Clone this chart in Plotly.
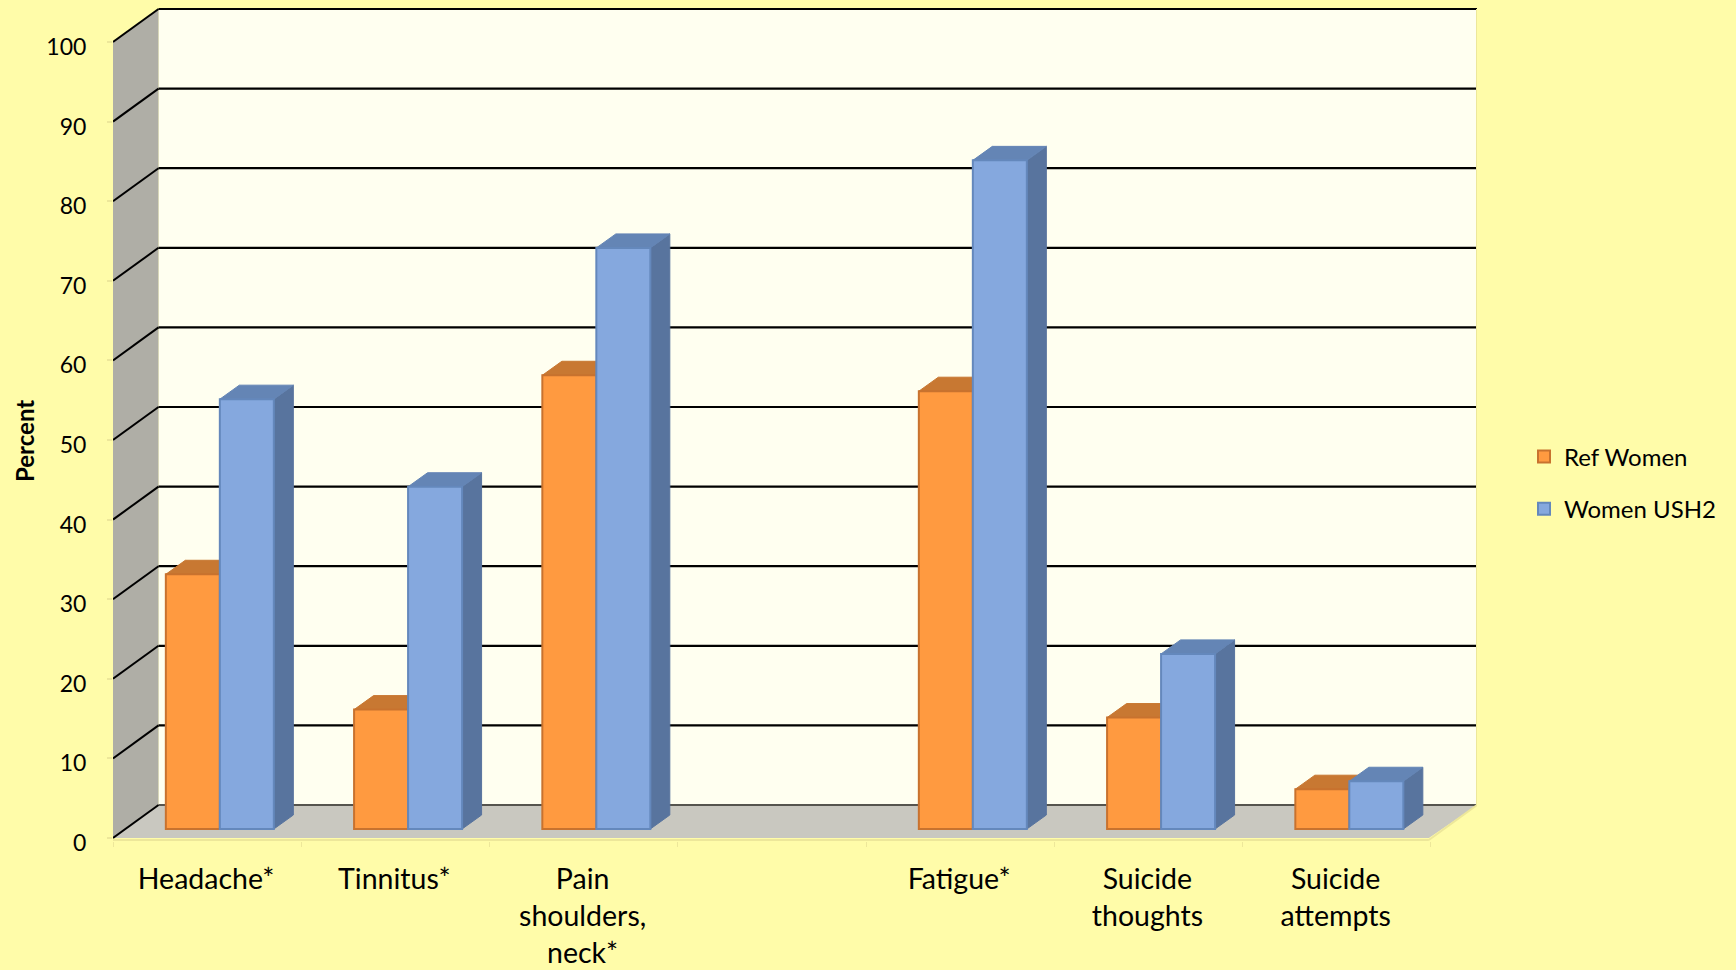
import plotly.graph_objects as go

categories = ["Headache*", "Tinnitus*", "Pain<br>shoulders,<br>neck*", "", "Fatigue*", "Suicide<br>thoughts", "Suicide<br>attempts"]
ref_women = [32, 15, 57, None, 55, 14, 5]
women_ush2 = [54, 43, 73, None, 84, 22, 6]
y_ticks = list(range(0, 101, 10))

FONT = "Lato"
PAPER = "#FFFCA9"
PALE = "#EDE79A"
N = len(categories)
# pixel scale of the pseudo-3D scene, used to convert offsets to axis units
LEFT = 113.0
RIGHT = 1477.0
PX_X = 188.25
PX_Y = 7.96
WALL_DX = 45.5 / PX_X
WALL_DY = 33 / PX_Y
BAR_W = 54 / PX_X
FACE_DX = 19.5 / PX_X
FACE_DY = 14 / PX_Y
BAR_SHIFT = 12.7 / PX_X
BAR_BASE = 9 / PX_Y
X_RANGE = [0, (RIGHT - LEFT) / PX_X]
Y_RANGE = [-3 / PX_Y, 832 / PX_Y]
PLOT_W = RIGHT - LEFT
PLOT_H = 835.0


def poly(points):
    return "M" + " L".join(f"{x:.4f},{y:.4f}" for x, y in points) + " Z"


def faces(values, side):
    sx, sy, tx, ty = [], [], [], []
    for i, v in enumerate(values):
        if v is None:
            continue
        centre = i + 0.5 + BAR_SHIFT + side * BAR_W / 2
        xl, xr = centre - BAR_W / 2, centre + BAR_W / 2
        top = BAR_BASE + v
        sx += [xr, xr + FACE_DX, xr + FACE_DX, xr, xr, None]
        sy += [BAR_BASE, BAR_BASE + FACE_DY, top + FACE_DY, top, BAR_BASE, None]
        tx += [xl, xl + FACE_DX, xr + FACE_DX, xr, xl, None]
        ty += [top, top + FACE_DY, top + FACE_DY, top, top, None]
    return sx, sy, tx, ty


shapes = [
    dict(type="path", path=poly([(WALL_DX, WALL_DY), (X_RANGE[1], WALL_DY), (X_RANGE[1], 100 + WALL_DY), (WALL_DX, 100 + WALL_DY)]),
         fillcolor="#FFFFF0", line_width=0, layer="below"),
    dict(type="path", path=poly([(0, 0), (WALL_DX, WALL_DY), (WALL_DX, 100 + WALL_DY), (0, 100)]),
         fillcolor="#AFAEA6", line_width=0, layer="below"),
    dict(type="path", path=poly([(0, 0), (N - 0.01, 0), (X_RANGE[1], WALL_DY), (WALL_DX, WALL_DY)]),
         fillcolor="#C9C8C0", line_width=0, layer="below"),
]
for v in y_ticks:
    col = "#55544E" if v == 0 else "#000000"
    shapes.append(dict(type="line", x0=WALL_DX, x1=X_RANGE[1], y0=v + WALL_DY, y1=v + WALL_DY,
                       line=dict(color=col, width=2.2), layer="below"))
    shapes.append(dict(type="line", x0=0, x1=WALL_DX, y0=v, y1=v + WALL_DY,
                       line=dict(color="#000000", width=2), layer="below"))
# pale frame of the box
for x0, y0, x1, y1 in [(0, -2 / PX_Y, N - 0.01, -2 / PX_Y), (N - 0.01, -2 / PX_Y, X_RANGE[1], WALL_DY),
                       (X_RANGE[1], WALL_DY, X_RANGE[1], 100 + WALL_DY), (-1.5 / PX_X, 0, -1.5 / PX_X, 100)]:
    shapes.append(dict(type="line", x0=x0, y0=y0, x1=x1, y1=y1, line=dict(color=PALE, width=2), layer="below"))

fig = go.Figure()
series = [
    ("Ref Women", ref_women, -1, "#FF9A40", "#C8722E", "#C87832", "#C87832"),
    ("Women USH2", women_ush2, 1, "#85A8DE", "#6488BC", "#58749E", "#6485B5"),
]
for name, values, side, front, border, side_col, top_col in series:
    sx, sy, tx, ty = faces(values, side)
    for fx, fy, col in [(sx, sy, side_col), (tx, ty, top_col)]:
        fig.add_trace(go.Scatter(x=fx, y=fy, mode="lines", fill="toself", fillcolor=col,
                                 line=dict(color=col, width=1), showlegend=False,
                                 hoverinfo="skip", xaxis="x", yaxis="y"))
for name, values, side, front, border, side_col, top_col in series:
    xs = [i + 0.5 + BAR_SHIFT + side * BAR_W / 2 for i in range(N)]
    fig.add_trace(go.Bar(name=name, x=xs, y=values, base=BAR_BASE, width=BAR_W,
                         marker=dict(color=front, line=dict(color=border, width=2)),
                         legendgroup=name, xaxis="x2", yaxis="y2"))

fig.update_layout(
    width=1736, height=970, autosize=False,
    margin=dict(l=LEFT, r=1736 - RIGHT, t=6, b=129, pad=0, autoexpand=False),
    paper_bgcolor=PAPER, plot_bgcolor=PAPER,
    barmode="overlay",
    font=dict(family=FONT, color="#000000", size=26),
    shapes=shapes,
    showlegend=True,
    legend=dict(x=(1524 - LEFT) / PLOT_W, xref="paper", xanchor="left", y=0.487, yanchor="top",
                bgcolor="rgba(0,0,0,0)", font=dict(size=24, family=FONT), tracegroupgap=18,
                itemclick=False, itemdoubleclick=False),
    xaxis=dict(range=X_RANGE, tickmode="array", tickvals=[i + 0.5 for i in range(N)], ticktext=categories,
               automargin=False,
               ticks="", showgrid=False, zeroline=False, showline=False, ticklabelstandoff=18, ticklabelshift=-1,
               tickangle=0, tickfont=dict(size=28.5, family=FONT),
               minor=dict(tickmode="array", tickvals=list(range(N + 1)), ticks="outside", ticklen=5,
                          tickcolor=PALE, tickwidth=1, showgrid=False)),
    yaxis=dict(range=Y_RANGE, tickmode="array", tickvals=y_ticks, ticks="outside", ticklen=5, tickcolor=PALE,
               automargin=False,
               tickwidth=2, showgrid=False, zeroline=False, showline=False, ticklabelstandoff=16,
               ticklabelshift=5, tickfont=dict(size=23, family=FONT)),
    xaxis2=dict(range=X_RANGE, overlaying="x", anchor="y2", visible=False, automargin=False),
    yaxis2=dict(range=Y_RANGE, overlaying="y", anchor="x2", visible=False, automargin=False),
    annotations=[dict(text="<b>Percent</b>", textangle=-90, xref="paper", yref="paper", showarrow=False,
                      x=(24 - LEFT) / PLOT_W, y=1 - (441 - 6) / PLOT_H, xanchor="center", yanchor="middle",
                      font=dict(size=24, family=FONT))],
)
fig.write_html("out.html", config=dict(displayModeBar=False), post_script="document.body.style.margin='0';")
